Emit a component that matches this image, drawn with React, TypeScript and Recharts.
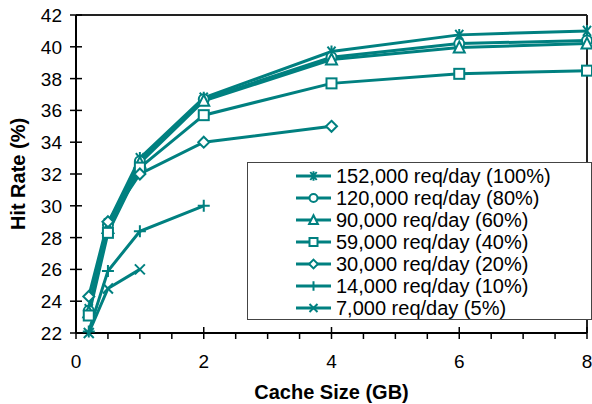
import React from 'react';
import { LineChart, Line, XAxis, YAxis, ReferenceLine, Legend } from 'recharts';

const cacheSizes = [0.2, 0.5, 1, 2, 4, 6, 8];

const hit152k = [23.5, 28.9, 33.0, 36.8, 39.7, 40.75, 41.0];
const hit120k = [23.4, 28.8, 32.8, 36.7, 39.35, 40.2, 40.4];
const hit90k = [23.3, 28.6, 32.7, 36.6, 39.2, 39.95, 40.2];
const hit59k = [23.1, 28.3, 32.4, 35.7, 37.7, 38.3, 38.5];
const hit30k = [24.3, 29.0, 32.0, 34.0, 35.0];
const hit14k = [22.1, 25.9, 28.4, 30.0];
const hit7k = [22.0, 24.8, 26.0];

const seriesNames = [
  '152,000 req/day (100%)',
  '120,000 req/day (80%)',
  '90,000 req/day (60%)',
  '59,000 req/day (40%)',
  '30,000 req/day (20%)',
  '14,000 req/day (10%)',
  '7,000 req/day (5%)',
];

const xTicks = [0, 0.5, 1, 1.5, 2, 2.5, 3, 3.5, 4, 4.5, 5, 5.5, 6, 6.5, 7, 7.5, 8];
const yTicks = [22, 24, 26, 28, 30, 32, 34, 36, 38, 40, 42];

const TEAL = '#008080';
const FONT = '"Liberation Sans", Arial, sans-serif';

const toPoints = (vals: number[]) => vals.map((v, i) => ({ x: cacheSizes[i], y: v }));

type Shape = 'star' | 'circle' | 'triangle' | 'square' | 'diamond' | 'plus' | 'cross';
const shapes: Shape[] = ['star', 'circle', 'triangle', 'square', 'diamond', 'plus', 'cross'];
const seriesValues = [hit152k, hit120k, hit90k, hit59k, hit30k, hit14k, hit7k];

function Marker({ shape, cx, cy, s = 1 }: { shape: Shape; cx: number; cy: number; s?: number }) {
  const common = { stroke: TEAL, strokeWidth: 2, fill: '#fff' };
  switch (shape) {
    case 'star':
      return (
        <path
          d={`M${cx - 4 * s},${cy - 5 * s}L${cx + 4 * s},${cy + 5 * s}M${cx + 4 * s},${cy - 5 * s}L${cx - 4 * s},${cy + 5 * s}M${cx},${cy - 6 * s}L${cx},${cy + 6 * s}`}
          {...common}
        />
      );
    case 'circle':
      return <circle cx={cx} cy={cy} r={5 * s} {...common} />;
    case 'triangle':
      return (
        <polygon
          points={`${cx},${cy - 6 * s} ${cx - 5.5 * s},${cy + 5 * s} ${cx + 5.5 * s},${cy + 5 * s}`}
          {...common}
        />
      );
    case 'square':
      return <rect x={cx - 5 * s} y={cy - 5 * s} width={10 * s} height={10 * s} {...common} />;
    case 'diamond':
      return (
        <polygon
          points={`${cx},${cy - 5.5 * s} ${cx + 5.5 * s},${cy} ${cx},${cy + 5.5 * s} ${cx - 5.5 * s},${cy}`}
          {...common}
        />
      );
    case 'plus':
      return <path d={`M${cx - 6 * s},${cy}L${cx + 6 * s},${cy}M${cx},${cy - 6 * s}L${cx},${cy + 6 * s}`} {...common} />;
    default:
      return (
        <path
          d={`M${cx - 5 * s},${cy - 5 * s}L${cx + 5 * s},${cy + 5 * s}M${cx + 5 * s},${cy - 5 * s}L${cx - 5 * s},${cy + 5 * s}`}
          {...common}
        />
      );
  }
}

const XTick = (props: any) => {
  const { x, y, payload } = props;
  const major = payload.value % 2 === 0;
  return (
    <g>
      <line x1={x} x2={x} y1={major ? y - 6 : y} y2={y + 6} stroke="#000" strokeWidth={1.5} />
      {major && (
        <text x={x} y={y + 35} textAnchor="middle" fontSize={19} fontFamily={FONT} fill="#000">
          {payload.value}
        </text>
      )}
    </g>
  );
};

const YTick = (props: any) => {
  const { x, y, payload } = props;
  return (
    <g>
      <line x1={x - 6} x2={x + 6} y1={y} y2={y} stroke="#000" strokeWidth={1.5} />
      <text x={x - 14} y={y + 7} textAnchor="end" fontSize={19} fontFamily={FONT} fill="#000">
        {payload.value}
      </text>
    </g>
  );
};

const LegendBox = () => (
  <div
    style={{
      width: 345,
      height: 158,
      boxSizing: 'border-box',
      border: '1.5px solid #444',
      background: '#fff',
      paddingTop: 2,
    }}
  >
    {seriesNames.map((name, i) => (
      <div key={name} style={{ display: 'flex', alignItems: 'center', height: 22 }}>
        <svg width={88} height={22} style={{ display: 'block' }}>
          <line x1={48} x2={83} y1={11} y2={11} stroke={TEAL} strokeWidth={3} />
          <Marker shape={shapes[i]} cx={65.5} cy={11} s={0.8} />
        </svg>
        <span style={{ fontFamily: FONT, fontSize: 20, color: '#000', lineHeight: '22px' }}>{name}</span>
      </div>
    ))}
  </div>
);

const App = () => {
  return (
    <div style={{ position: 'relative', width: 592, height: 404, background: '#fff' }}>
      <style>{`body{margin:0}`}</style>
      <LineChart width={592} height={404} margin={{ top: 15, right: 5, bottom: 0, left: 0 }}>
        <XAxis
          type="number"
          dataKey="x"
          domain={[0, 8]}
          ticks={xTicks}
          interval={0}
          height={71}
          tickSize={0}
          tickMargin={0}
          tickLine={false}
          tick={<XTick />}
          axisLine={{ stroke: '#000', strokeWidth: 2 }}
          label={{
            value: 'Cache Size (GB)',
            position: 'insideBottom',
            offset: 5,
            style: { fontFamily: FONT, fontSize: 20, fontWeight: 'bold', fill: '#000' },
          }}
        />
        <YAxis
          type="number"
          domain={[22, 42]}
          ticks={yTicks}
          interval={0}
          width={76}
          tickSize={0}
          tickMargin={0}
          tickLine={false}
          tick={<YTick />}
          axisLine={{ stroke: '#000', strokeWidth: 2 }}
          label={{
            value: 'Hit Rate (%)',
            angle: -90,
            position: 'insideLeft',
            offset: 18,
            style: { textAnchor: 'middle', fontFamily: FONT, fontSize: 20, fontWeight: 'bold', fill: '#000' },
          }}
        />
        <ReferenceLine y={42} stroke="#222" strokeWidth={2} />
        <ReferenceLine x={8} stroke="#222" strokeWidth={2} />
        {seriesValues.map((vals, i) => (
          <Line
            key={seriesNames[i]}
            data={toPoints(vals)}
            dataKey="y"
            name={seriesNames[i]}
            stroke={TEAL}
            strokeWidth={3}
            isAnimationActive={false}
            dot={(p: any) => <Marker key={`${i}-${p.index}`} shape={shapes[i]} cx={p.cx} cy={p.cy} />}
          />
        ))}
        <Legend
          layout="vertical"
          align="center"
          verticalAlign="middle"
          wrapperStyle={{ left: 247, top: 162, width: 345, height: 158 }}
          content={() => <LegendBox />}
        />
      </LineChart>
    </div>
  );
};

export default App;
